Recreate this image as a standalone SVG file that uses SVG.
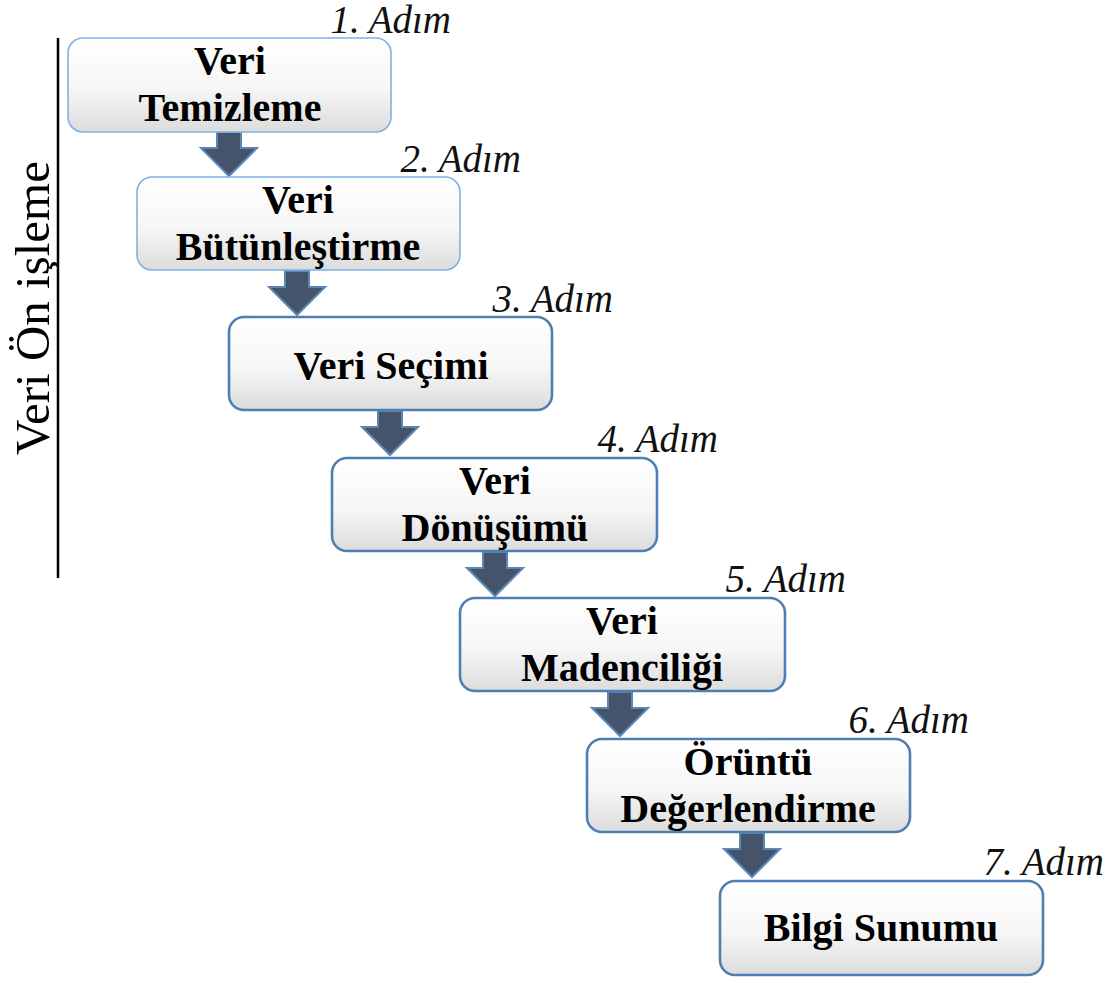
<svg xmlns="http://www.w3.org/2000/svg" width="1115" height="983" viewBox="0 0 1115 983">
  <defs>
    <linearGradient id="boxFill" x1="0" y1="0" x2="0" y2="1">
      <stop offset="0" stop-color="#ffffff"/>
      <stop offset="0.55" stop-color="#f6f6f6"/>
      <stop offset="1" stop-color="#dcdcdc"/>
    </linearGradient>
    <path id="downArrow" d="M-12,0 H12 V16 H28 L0,44 L-28,16 H-12 Z"/>
  </defs>
  <style>
    .box { fill: url(#boxFill); }
    .light { stroke: #7eb2e6; stroke-width: 1.6; }
    .dark { stroke: #4f7fb2; stroke-width: 2.6; }
    .label { font-family: "Liberation Serif", "Times New Roman", serif; font-weight: bold; font-size: 40px; text-anchor: middle; fill: #000; }
    .step { font-family: "Liberation Serif", "Times New Roman", serif; font-style: italic; font-size: 39px; text-anchor: end; fill: #111; }
    .arrow { fill: #45546b; stroke: #5a86b6; stroke-width: 2; stroke-linejoin: miter; }
    .side { font-family: "Liberation Serif", "Times New Roman", serif; font-size: 49px; text-anchor: middle; fill: #000; }
  </style>

  <!-- preprocessing bracket -->
  <g id="preprocessing">
    <line x1="58" y1="38" x2="58" y2="578" stroke="#000" stroke-width="2.5"/>
    <text class="side" transform="translate(49,308) rotate(-90)">Veri Ön işleme</text>
  </g>

  <!-- connectors -->
  <g id="connectors">
    <use href="#downArrow" class="arrow" x="229" y="132"/>
    <use href="#downArrow" class="arrow" x="297" y="271"/>
    <use href="#downArrow" class="arrow" x="390" y="411"/>
    <use href="#downArrow" class="arrow" x="495" y="552"/>
    <use href="#downArrow" class="arrow" x="620" y="692"/>
    <use href="#downArrow" class="arrow" x="752" y="833"/>
  </g>

  <g id="step1">
    <rect class="box light" x="68" y="38" width="323" height="94" rx="15"/>
    <text class="label" x="230" y="74">Veri</text>
    <text class="label" x="230" y="121">Temizleme</text>
    <text class="step" x="451" y="33">1. Adım</text>
  </g>

  <g id="step2">
    <rect class="box light" x="137" y="177" width="323" height="93" rx="15"/>
    <text class="label" x="298" y="213">Veri</text>
    <text class="label" x="298" y="260">Bütünleştirme</text>
    <text class="step" x="521" y="172">2. Adım</text>
  </g>

  <g id="step3">
    <rect class="box dark" x="229" y="317" width="323" height="93" rx="15"/>
    <text class="label" x="391" y="379">Veri Seçimi</text>
    <text class="step" x="613" y="312">3. Adım</text>
  </g>

  <g id="step4">
    <rect class="box dark" x="332" y="458" width="325" height="93" rx="15"/>
    <text class="label" x="495" y="494">Veri</text>
    <text class="label" x="495" y="541">Dönüşümü</text>
    <text class="step" x="718" y="452">4. Adım</text>
  </g>

  <g id="step5">
    <rect class="box dark" x="460" y="598" width="325" height="93" rx="15"/>
    <text class="label" x="622" y="634">Veri</text>
    <text class="label" x="622" y="681">Madenciliği</text>
    <text class="step" x="846" y="592">5. Adım</text>
  </g>

  <g id="step6">
    <rect class="box dark" x="587" y="739" width="323" height="93" rx="15"/>
    <text class="label" x="748" y="775">Örüntü</text>
    <text class="label" x="748" y="822">Değerlendirme</text>
    <text class="step" x="969" y="733">6. Adım</text>
  </g>

  <g id="step7">
    <rect class="box dark" x="720" y="881" width="323" height="94" rx="15"/>
    <text class="label" x="881" y="941">Bilgi Sunumu</text>
    <text class="step" x="1104" y="875">7. Adım</text>
  </g>
</svg>
